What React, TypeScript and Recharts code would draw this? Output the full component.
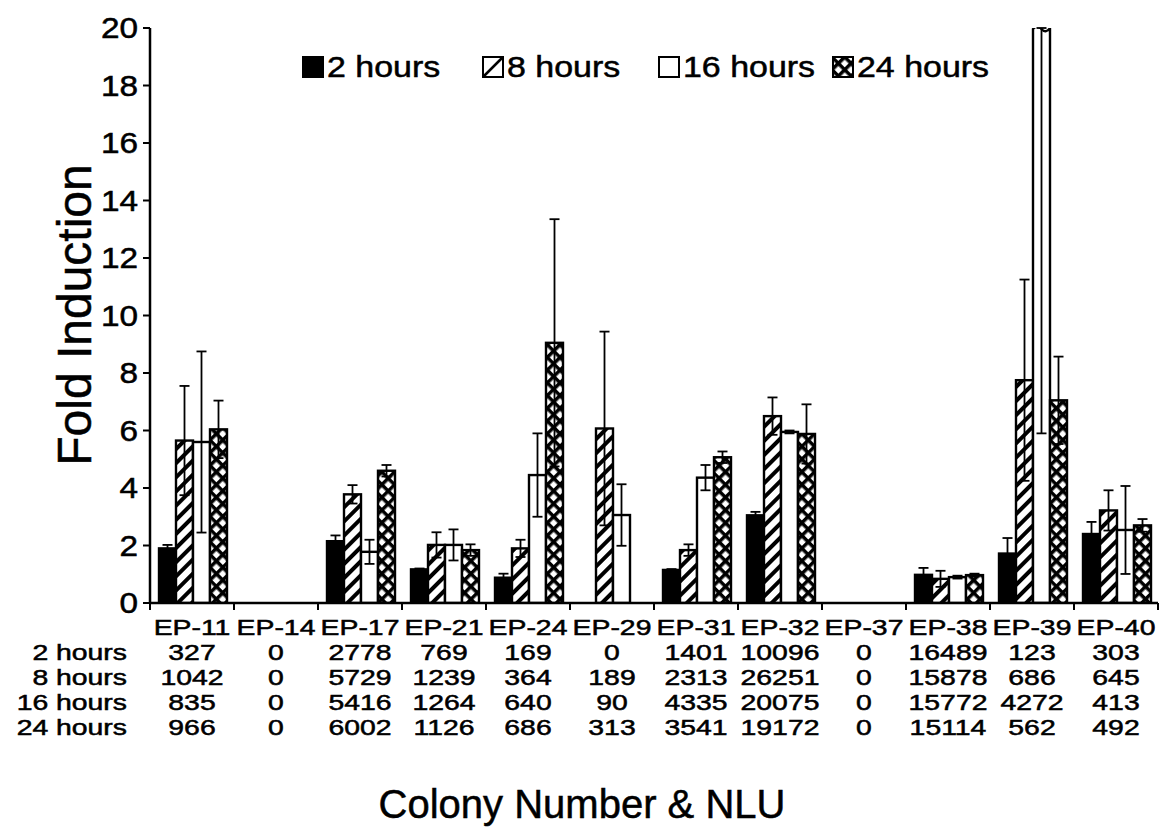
import React from 'react';
import { BarChart, Bar, XAxis, YAxis, ErrorBar, Legend } from 'recharts';

const FONT = '"Liberation Sans", Arial, Helvetica, sans-serif';

// categories
const colonies = ['EP-11', 'EP-14', 'EP-17', 'EP-21', 'EP-24', 'EP-29', 'EP-31', 'EP-32', 'EP-37', 'EP-38', 'EP-39', 'EP-40'];
const seriesNames = ['2 hours', '8 hours', '16 hours', '24 hours'];

// fold induction (null = no bar drawn)
const fold2h = [1.9, null, 2.15, 1.17, 0.88, null, 1.15, 3.05, null, 0.98, 1.72, 2.4];
const fold8h = [5.65, null, 3.78, 2.02, 1.9, 6.07, 1.84, 6.5, null, 0.84, 7.75, 3.22];
const fold16h = [5.6, null, 1.78, 2.02, 4.45, 3.06, 4.36, 5.95, null, 0.9, 20, 2.54];
const fold24h = [6.04, null, 4.6, 1.84, 9.05, null, 5.07, 5.88, null, 0.97, 7.05, 2.7];

// error bars
const err2h = [0.12, null, 0.2, 0.03, 0.14, null, 0.03, 0.12, null, 0.24, 0.54, 0.42];
const err8h = [1.9, null, 0.32, 0.44, 0.3, 3.37, 0.2, 0.65, null, 0.28, 3.5, 0.7];
const err16h = [3.15, null, 0.42, 0.54, 1.45, 1.07, 0.44, 0.05, null, 0.05, 14.1, 1.53];
const err24h = [1.0, null, 0.2, 0.2, 4.3, null, 0.2, 1.03, null, 0.05, 1.52, 0.22];

// NLU table under the axis
const nlu2h = [327, 0, 2778, 769, 169, 0, 1401, 10096, 0, 16489, 123, 303];
const nlu8h = [1042, 0, 5729, 1239, 364, 189, 2313, 26251, 0, 15878, 686, 645];
const nlu16h = [835, 0, 5416, 1264, 640, 90, 4335, 20075, 0, 15772, 4272, 413];
const nlu24h = [966, 0, 6002, 1126, 686, 313, 3541, 19172, 0, 15114, 562, 492];

const yTicks = [0, 2, 4, 6, 8, 10, 12, 14, 16, 18, 20];
const Y_MAX = 20;

const nluRows = [nlu2h, nlu8h, nlu16h, nlu24h];
const fills = ['#000', 'url(#hatch8)', '#fff', 'url(#cross24)'];

// bars that run off the top only show the lower half of their error bar
const errFor = (v: number | null, e: number | null) => (v != null && e != null && v >= Y_MAX ? [e, 0] : e);

const data = colonies.map((colony, i) => ({
  colony,
  h2: fold2h[i],
  h8: fold8h[i],
  h16: fold16h[i],
  h24: fold24h[i],
  e2: errFor(fold2h[i], err2h[i]),
  e8: errFor(fold8h[i], err8h[i]),
  e16: errFor(fold16h[i], err16h[i]),
  e24: errFor(fold24h[i], err24h[i]),
}));

// bar with a broken (wavy) top when it runs off the scale
const BarShape = (props: any) => {
  const { x, y, width, height, fill, value } = props;
  if (!height || height <= 0 || !width) return null;
  const v = Array.isArray(value) ? value[1] : value;
  if (v >= Y_MAX) {
    const w = width;
    const d = `M${x},${y + height} L${x},${y + 1} Q${x + w / 4},${y - 4} ${x + w / 2},${y + 1} T${x + w},${y} L${x + w},${y + height} Z`;
    return <path d={d} fill={fill} stroke="#000" strokeWidth={2.4} />;
  }
  return <rect x={x} y={y} width={width} height={height} fill={fill} stroke="#000" strokeWidth={2.4} />;
};

const SX = 1.32;
const ROW0 = 32;
const ROW_STEP = 25;
const INK = { stroke: '#000', strokeWidth: 0.5 };

const Stretched = ({ x, y, anchor, children }: any) => (
  <text transform={`translate(${x},${y}) scale(${SX},1)`} textAnchor={anchor}>
    {children}
  </text>
);

const ColonyTick = (props: any) => {
  const { x, y, payload, index } = props;
  const half = payload.offset || 42;
  return (
    <g fontFamily={FONT} fontSize={21.5} fill="#000">
      <line x1={x - half} x2={x - half} y1={y} y2={y + 7} stroke="#000" strokeWidth={2} />
      {index === colonies.length - 1 && (
        <line x1={x + half} x2={x + half} y1={y} y2={y + 7} stroke="#000" strokeWidth={2} />
      )}
      <g {...INK}>
        <Stretched x={x} y={y + ROW0} anchor="middle">{payload.value}</Stretched>
        {nluRows.map((row, r) => (
          <Stretched key={r} x={x} y={y + ROW0 + (r + 1) * ROW_STEP} anchor="middle">{row[index]}</Stretched>
        ))}
        {index === 0 &&
          seriesNames.map((n, r) => (
            <Stretched key={n} x={x - half - 23} y={y + ROW0 + (r + 1) * ROW_STEP} anchor="end">{n}</Stretched>
          ))}
      </g>
    </g>
  );
};

const ValueTick = (props: any) => {
  const { x, y, payload } = props;
  return (
    <text
      transform={`translate(${x},${y}) scale(1.15,1)`}
      dy="0.355em"
      textAnchor="end"
      fontFamily={FONT}
      fontSize={29}
      fill="#000"
      {...INK}
    >
      {payload.value}
    </text>
  );
};

const LegendIcon = ({ i }: { i: number }) => (
  <svg width={22} height={22} style={{ display: 'block' }}>
    <rect x={1} y={1} width={20} height={20} fill={i === 1 ? '#fff' : fills[i]} stroke="#000" strokeWidth={2} />
    {i === 1 && <line x1={2} y1={20} x2={20} y2={2} stroke="#000" strokeWidth={2.5} />}
  </svg>
);

const legendLeft = [0, 180, 356, 530];

const renderLegend = () => (
  <div style={{ position: 'relative', width: 700, height: 36, fontFamily: FONT, fontSize: 29, color: '#000', whiteSpace: 'nowrap' }}>
    {seriesNames.map((n, i) => (
      <div key={n} style={{ position: 'absolute', left: legendLeft[i], top: 0, display: 'flex', alignItems: 'center', height: 36 }}>
        <LegendIcon i={i} />
        <span
          style={{
            marginLeft: 3,
            display: 'inline-block',
            transform: 'scaleX(1.17)',
            transformOrigin: 'left center',
            WebkitTextStroke: '0.5px #000',
          }}
        >
          {n}
        </span>
      </div>
    ))}
  </div>
);

export default function App() {
  return (
    <div style={{ position: 'absolute', left: 0, top: 0, width: 1160, height: 830, background: '#fff' }}>
      <BarChart
        width={1160}
        height={830}
        data={data}
        margin={{ top: 28, right: 2, left: 0, bottom: 0 }}
        barCategoryGap={9}
        barGap={0}
      >
        <defs>
          <pattern id="hatch8" patternUnits="userSpaceOnUse" width={10} height={10} patternTransform="rotate(45)">
            <rect width={10} height={10} fill="#fff" />
            <rect x={0} y={0} width={4} height={10} fill="#000" />
          </pattern>
          <pattern id="cross24" patternUnits="userSpaceOnUse" width={9} height={9} patternTransform="rotate(45)">
            <rect width={9} height={9} fill="#000" />
            <rect x={2.5} y={2.5} width={5.5} height={5.5} fill="#fff" />
          </pattern>
        </defs>
        <XAxis
          dataKey="colony"
          height={227}
          interval={0}
          tickSize={0}
          tickMargin={0}
          tickLine={false}
          axisLine={{ stroke: '#000', strokeWidth: 2.5 }}
          tick={<ColonyTick />}
          label={{
            content: (p: any) => {
              const vb = p.viewBox;
              return (
                <text x={vb.x + vb.width / 2 - 72} y={818} textAnchor="middle" fontFamily={FONT} fontSize={40} fill="#000" {...INK}>
                  Colony Number &amp; NLU
                </text>
              );
            },
          }}
        />
        <YAxis
          width={150}
          domain={[0, Y_MAX]}
          allowDataOverflow
          ticks={yTicks}
          interval={0}
          tickSize={7}
          tickMargin={5}
          axisLine={{ stroke: '#000', strokeWidth: 2.5 }}
          tickLine={{ stroke: '#000', strokeWidth: 2 }}
          tick={<ValueTick />}
          label={{
            content: () => (
              <text x={91} y={315} transform="rotate(-90, 91, 315)" textAnchor="middle" fontFamily={FONT} fontSize={48} fill="#000" {...INK}>
                Fold Induction
              </text>
            ),
          }}
        />
        <Legend
          layout="horizontal"
          verticalAlign="middle"
          align="center"
          content={renderLegend}
          wrapperStyle={{ left: 302, top: 49, width: 'auto' }}
        />
        <Bar dataKey="h2" name="2 hours" fill={fills[0]} shape={<BarShape />} isAnimationActive={false}>
          <ErrorBar dataKey="e2" direction="y" width={5} stroke="#000" strokeWidth={1.8} />
        </Bar>
        <Bar dataKey="h8" name="8 hours" fill={fills[1]} shape={<BarShape />} isAnimationActive={false}>
          <ErrorBar dataKey="e8" direction="y" width={5} stroke="#000" strokeWidth={1.8} />
        </Bar>
        <Bar dataKey="h16" name="16 hours" fill={fills[2]} shape={<BarShape />} isAnimationActive={false}>
          <ErrorBar dataKey="e16" direction="y" width={5} stroke="#000" strokeWidth={1.8} />
        </Bar>
        <Bar dataKey="h24" name="24 hours" fill={fills[3]} shape={<BarShape />} isAnimationActive={false}>
          <ErrorBar dataKey="e24" direction="y" width={5} stroke="#000" strokeWidth={1.8} />
        </Bar>
      </BarChart>
    </div>
  );
}
